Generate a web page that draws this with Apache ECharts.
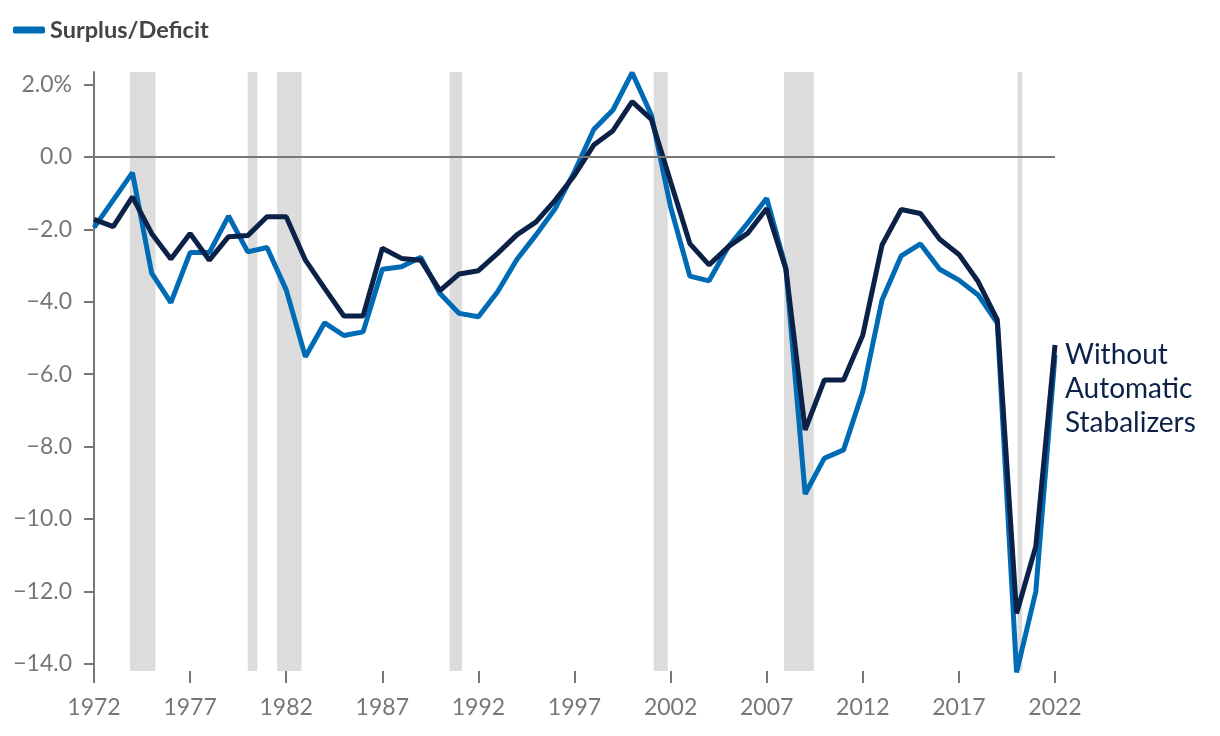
<!DOCTYPE html>
<html>
<head>
<meta charset="utf-8">
<script src="https://cdn.jsdelivr.net/npm/echarts@6/dist/echarts.min.js"></script>
<style>
html,body{margin:0;padding:0;background:#fff;}
#chart{width:1220px;height:736px;}
</style>
</head>
<body>
<div id="chart"></div>
<script>
const years = [];
for (let y = 1972; y <= 2022; y++) years.push(y);

const surplusDeficit = [
  -1.95, -1.19, -0.43, -3.21, -4.02, -2.64, -2.64, -1.63, -2.62, -2.50,
  -3.67, -5.52, -4.58, -4.93, -4.83, -3.10, -3.03, -2.77, -3.77, -4.32,
  -4.41, -3.72, -2.83, -2.15, -1.42, -0.40, 0.76, 1.30, 2.33, 1.16,
  -1.38, -3.29, -3.42, -2.48, -1.83, -1.14, -3.07, -9.31, -8.32, -8.09,
  -6.48, -3.95, -2.73, -2.40, -3.10, -3.40, -3.81, -4.59, -14.24, -12.01,
  -5.47
];

const withoutStabilizers = [
  -1.72, -1.92, -1.10, -2.11, -2.82, -2.11, -2.85, -2.20, -2.17, -1.65,
  -1.65, -2.85, -3.63, -4.39, -4.39, -2.52, -2.80, -2.85, -3.69, -3.23,
  -3.14, -2.66, -2.15, -1.79, -1.19, -0.50, 0.33, 0.73, 1.53, 1.04,
  -0.68, -2.39, -2.98, -2.48, -2.11, -1.42, -3.10, -7.54, -6.16, -6.16,
  -4.92, -2.43, -1.45, -1.56, -2.27, -2.69, -3.44, -4.50, -12.61, -10.76,
  -5.19
];

// recession periods [start, end] in fractional years
const recessions = [
  [1973.87, 1975.2],
  [1980.0, 1980.5],
  [1981.53, 1982.8],
  [1990.5, 1991.15],
  [2001.12, 2001.85],
  [2007.9, 2009.45],
  [2020.05, 2020.3]
];

const xTicks = [1972, 1977, 1982, 1987, 1992, 1997, 2002, 2007, 2012, 2017, 2022];
const yTicks = [2, 0, -2, -4, -6, -8, -10, -12, -14];

const FONT = 'Lato, "Open Sans", sans-serif';
const GRAY = '#777777';
const BLUE = '#006BB5';
const NAVY = '#0C2148';

function yLabel(v) {
  if (v === 2) return '2.0%';
  if (v < 0) return '\u2212' + Math.abs(v).toFixed(1);
  return v.toFixed(1);
}

const chart = echarts.init(document.getElementById('chart'), null, {renderer: 'canvas'});
chart.setOption({
  animation: false,
  backgroundColor: '#ffffff',
  textStyle: {fontFamily: FONT},
  legend: {
    data: ['Surplus/Deficit'],
    left: 8,
    top: 13,
    itemWidth: 32,
    itemHeight: 7,
    itemGap: 8,
    icon: 'roundRect',
    textStyle: {fontFamily: FONT, fontSize: 23.5, fontWeight: 'bold', color: '#444444'}
  },
  grid: {left: 94, right: 165, top: 72, bottom: 65, containLabel: false},
  xAxis: {
    type: 'value',
    min: 1972,
    max: 2022,
    axisLine: {show: false, onZero: false},
    splitLine: {show: false},
    axisTick: {
      show: true,
      customValues: xTicks,
      length: 12,
      lineStyle: {color: GRAY, width: 2}
    },
    axisLabel: {
      customValues: xTicks,
      color: GRAY,
      fontFamily: FONT,
      fontSize: 23,
      margin: 25,
      formatter: v => String(v)
    }
  },
  yAxis: {
    type: 'value',
    min: -14.2,
    max: 2.35,
    axisLine: {show: true, lineStyle: {color: GRAY, width: 2}},
    splitLine: {show: false},
    axisTick: {
      show: true,
      customValues: yTicks,
      length: 10,
      lineStyle: {color: GRAY, width: 2}
    },
    axisLabel: {
      customValues: yTicks,
      color: GRAY,
      fontFamily: FONT,
      fontSize: 23,
      margin: 22,
      formatter: yLabel
    }
  },
  series: [
    {
      name: 'Surplus/Deficit',
      type: 'line',
      data: years.map((y, i) => [y, surplusDeficit[i]]),
      symbol: 'none',
      clip: false,
      color: BLUE,
      lineStyle: {color: BLUE, width: 5},
      z: 3,
      markArea: {
        silent: true,
        itemStyle: {color: '#DCDCDC'},
        data: recessions.map(r => [{xAxis: r[0]}, {xAxis: r[1]}])
      },
      markLine: {
        silent: true,
        symbol: 'none',
        label: {show: false},
        lineStyle: {color: GRAY, width: 2, type: 'solid'},
        data: [{yAxis: 0}]
      }
    },
    {
      name: 'Without Automatic Stabalizers',
      type: 'line',
      data: years.map((y, i) => [y, withoutStabilizers[i]]),
      symbol: 'none',
      clip: false,
      color: NAVY,
      lineStyle: {color: NAVY, width: 5},
      z: 4,
      endLabel: {
        show: true,
        formatter: 'Without\nAutomatic\nStabalizers',
        color: NAVY,
        fontFamily: FONT,
        fontSize: 28,
        lineHeight: 34,
        align: 'left',
        verticalAlign: 'top',
        distance: 10,
        offset: [0, -7]
      }
    }
  ]
});
</script>
</body>
</html>
